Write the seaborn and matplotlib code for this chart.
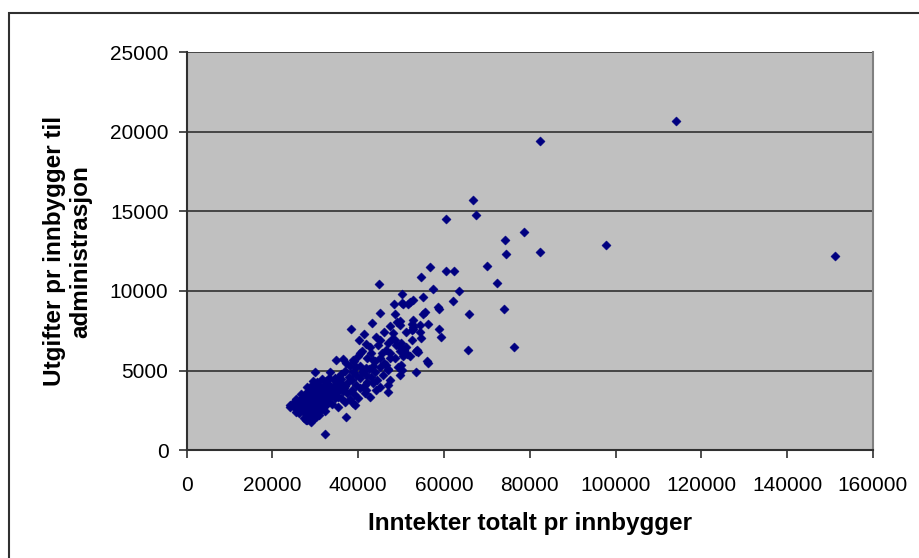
import matplotlib
matplotlib.use("Agg")
import matplotlib.pyplot as plt
from matplotlib.patches import Rectangle
import seaborn as sns
import pandas as pd

# Sparse / outlying points (income per inhabitant, admin cost per inhabitant)
x_sparse = [114100, 82370, 66700, 67490, 60510, 78560, 74300, 97870, 82280, 74540,
            151050, 70120, 56700, 60420, 62440, 54700, 72440, 44770, 57400, 63610,
            50120, 55230, 52750, 51980, 51510, 50420, 48260, 50280, 62050, 58560,
            58790, 73910, 65930, 45000, 48490, 55070, 55470, 52750, 49650, 49020,
            43300, 56330, 52600, 54370, 49650, 52750, 38410, 52750, 58790, 52600,
            51210, 54470, 48100, 41350, 44230, 59260, 54600, 40270, 45000, 48490,
            52600, 41900, 44610, 48880, 42670, 49650, 51210, 76230, 65620, 53760,
            46560, 53530, 53910, 40350, 47330, 51980, 50420, 45000, 43450, 38790,
            34930, 36470, 56000, 56400, 37260, 46560, 50050, 39580, 49260, 41900,
            46950, 50280, 53530, 38790, 30040, 33530, 41900, 45770, 49650, 34530,
            47330, 32600, 43450, 35700, 46950, 45000, 41900, 44230, 46950, 41510,
            42670, 38790, 39190, 37260, 32210, 35300, 24840, 24230, 27950, 29120]
y_sparse = [20710, 19420, 15710, 14780, 14530, 13690, 13230, 12890, 12450, 12310,
            12220, 11570, 11530, 11280, 11240, 10890, 10520, 10460, 10150, 9980,
            9830, 9640, 9460, 9300, 9180, 9180, 9160, 9230, 9350, 8980,
            8890, 8890, 8580, 8600, 8550, 8580, 8660, 8170, 8110, 8070,
            8010, 7950, 7920, 7840, 7860, 7760, 7630, 7590, 7590, 7550,
            7400, 7440, 7340, 7280, 7090, 7090, 7060, 6900, 6920, 6920,
            6900, 6670, 6600, 6600, 6500, 6500, 6500, 6480, 6310, 6290,
            6290, 6230, 6160, 6080, 6080, 5930, 5910, 5770, 5660, 5660,
            5660, 5700, 5600, 5450, 5450, 5350, 5350, 5240, 5240, 5140,
            5030, 5030, 4930, 4930, 4890, 4890, 4720, 4720, 4720, 4510,
            4400, 4300, 4200, 4200, 4090, 3980, 3770, 3770, 3670, 3570,
            3350, 2940, 2830, 2100, 1010, 2720, 2940, 2690, 1890, 1780]

# Middle band of municipalities
x_mid = [36000, 37000, 37800, 38500, 39500, 40500, 41000, 42000, 43000, 44000,
         45000, 46000, 47500, 38000, 39000, 40000, 41000, 42000, 43000, 44000,
         45500, 47000, 48000, 46000, 47500, 36500, 37500, 38500, 39500, 40500,
         41500, 39000, 40000, 37500, 36000, 37000, 38000, 43500, 42500, 40500,
         36800, 48500, 47000, 44500, 50000, 50800, 51500, 49800]
y_mid = [4800, 5000, 4600, 4400, 4700, 4500, 4900, 4300, 4600, 4900,
         5200, 5500, 5800, 5300, 5600, 5900, 6200, 5800, 6100, 5600,
         6100, 6700, 7000, 7400, 7800, 4000, 4200, 3800, 4100, 3900,
         4100, 3500, 3300, 3600, 3300, 3000, 3200, 5300, 5100, 5300,
         3900, 5800, 5100, 4400, 6700, 6300, 6050, 6250]

# Dense cluster of low-income municipalities
x_dense = [27500, 28200, 28900, 29500, 30100, 30800,
           25500, 26200, 27000, 27600, 28300, 29000, 29600, 30200, 30900, 31500, 32200,
           24200, 25000, 25800, 26500, 27200, 27900, 28500, 29100, 29800, 30400, 31000, 31700, 32400, 33000, 33800,
           25500, 26300, 27000, 27800, 28400, 29000, 29700, 30300, 31000, 31600, 32300, 33000, 33700, 34500, 35300,
           26800, 27600, 28400, 29100, 29800, 30500, 31200, 31900, 32600, 33300, 34000, 34800, 35600, 36500,
           28000, 29000, 29800, 30600, 31400, 32100, 32900, 33700, 34500, 35300, 36200, 37000,
           29500, 30500, 31500, 32400, 33300, 34300, 35200, 36100,
           26000, 27300, 28700, 30000, 31300, 32700, 34000, 28000, 29400, 30700, 32000, 33400]
y_dense = [2000, 1900, 2150, 1950, 2100, 2200,
           2400, 2300, 2500, 2350, 2450, 2300, 2550, 2400, 2500, 2600, 2450,
           2800, 2700, 2900, 2750, 2850, 2700, 2950, 2800, 2900, 2750, 2850, 2950, 2800, 3000, 2900,
           3200, 3100, 3300, 3150, 3250, 3100, 3300, 3200, 3350, 3150, 3300, 3250, 3400, 3300, 3350,
           3550, 3500, 3650, 3550, 3700, 3600, 3750, 3550, 3700, 3650, 3750, 3600, 3800, 3700,
           3950, 4000, 3900, 4100, 3950, 4050, 4150, 3950, 4100, 4000, 4150, 4050,
           4350, 4300, 4450, 4350, 4500, 4400, 4550, 4450,
           2600, 3050, 3450, 3850, 3050, 3550, 3500, 2200, 2650, 3000, 2750, 3600]

x_all = x_sparse + x_mid + x_dense
y_all = y_sparse + y_mid + y_dense
df = pd.DataFrame({"inntekt": x_all, "utgift": y_all})

x_ticks = [0, 20000, 40000, 60000, 80000, 100000, 120000, 140000, 160000]
y_ticks = [0, 5000, 10000, 15000, 20000, 25000]

plt.rcParams['font.family'] = ['Liberation Sans', 'DejaVu Sans']

fig = plt.figure(figsize=(9.19, 5.58), dpi=100)
ax = fig.add_axes([186.5 / 919, 108 / 558, (873 - 186.5) / 919, (450 - 52.5) / 558])
ax.set_facecolor('#C0C0C0')

sns.scatterplot(data=df, x="inntekt", y="utgift", ax=ax, marker='D', s=22,
                color='#000080', edgecolor='#000080', linewidth=0.3, zorder=3)

ax.set_xlim(0, 160000)
ax.set_ylim(0, 25000)
ax.set_xticks(x_ticks)
ax.set_yticks(y_ticks)
ax.set_xticklabels([str(t) for t in x_ticks], fontsize=15)
ax.set_yticklabels([str(t) for t in y_ticks], fontsize=15)
ax.tick_params(axis='both', direction='out', length=6, width=1.2, color='#303030')
ax.tick_params(axis='x', pad=13)
ax.tick_params(axis='y', pad=7)

for yv in y_ticks[1:]:
    ax.axhline(yv, color='#303030', lw=1.2, zorder=1)

for side in ['left', 'bottom']:
    ax.spines[side].set_color('#303030')
    ax.spines[side].set_linewidth(1.5)
ax.spines['right'].set_color('#808080')
ax.spines['right'].set_linewidth(1.5)
ax.spines['top'].set_visible(False)

ax.set_xlabel('Inntekter totalt pr innbygger', fontsize=17.5, fontweight='bold', labelpad=12)
ax.set_ylabel('Utgifter pr innbygger til\nadministrasjon', fontsize=17.5, fontweight='bold',
              labelpad=13, linespacing=1.15)

fig.patches.append(Rectangle((9 / 919, -0.1), 1.2, (558 - 13) / 558 + 0.1,
                             transform=fig.transFigure, fill=False,
                             edgecolor='#303030', lw=1.5, zorder=0))

fig.savefig('out.png', dpi=100)
